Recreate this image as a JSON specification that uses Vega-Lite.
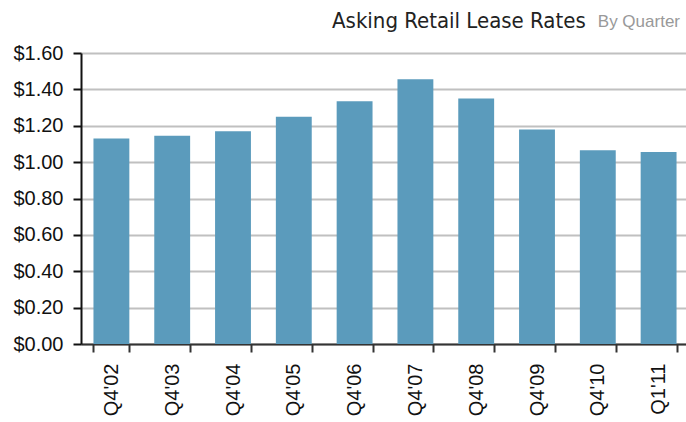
{
  "$schema": "https://vega.github.io/schema/vega-lite/v6.json",
  "autosize": {"type": "none"},
  "padding": {"left": 81, "top": 53, "right": 0, "bottom": 78},
  "width": 608,
  "height": 291,
  "background": "white",
  "title": {
    "text": "Asking Retail Lease Rates\u00a0\u00a0\u00a0\u00a0\u00a0\u00a0\u00a0\u00a0\u00a0\u00a0\u00a0\u00a0\u00a0\u00a0\u00a0\u200b",
    "subtitle": "By Quarter",
    "anchor": "end",
    "dx": -9,
    "font": "'Liberation Sans Narrow', 'DejaVu Sans Condensed', Roboto, sans-serif",
    "fontSize": 22,
    "fontWeight": "normal",
    "color": "#222222",
    "subtitleFont": "Liberation Sans",
    "subtitleFontSize": 17,
    "subtitleColor": "#999999",
    "subtitlePadding": -19,
    "offset": 10
  },
  "data": {
    "values": [
      {"q": "Q4'02", "v": 1.13},
      {"q": "Q4'03", "v": 1.145},
      {"q": "Q4'04", "v": 1.17},
      {"q": "Q4'05", "v": 1.25},
      {"q": "Q4'06", "v": 1.335},
      {"q": "Q4'07", "v": 1.455},
      {"q": "Q4'08", "v": 1.35},
      {"q": "Q4'09", "v": 1.18},
      {"q": "Q4'10", "v": 1.065},
      {"q": "Q1'11", "v": 1.055}
    ]
  },
  "mark": {"type": "bar", "color": "#5b9bbc"},
  "encoding": {
    "x": {
      "field": "q",
      "type": "nominal",
      "sort": null,
      "scale": {"paddingInner": 0.41, "paddingOuter": 0.205},
      "axis": {
        "title": null,
        "labelAngle": -90,
        "labelAlign": "right",
        "labelBaseline": "middle",
        "labelFont": "Liberation Sans",
        "labelFontSize": 20,
        "labelColor": "#111111",
        "labelPadding": 11,
        "tickBand": "extent",
        "tickSize": 8,
        "tickWidth": 2,
        "tickColor": "#333333",
        "domainColor": "#333333",
        "domainWidth": 2,
        "grid": false
      }
    },
    "y": {
      "field": "v",
      "type": "quantitative",
      "scale": {"domain": [0, 1.6], "nice": false},
      "axis": {
        "title": null,
        "values": [0, 0.2, 0.4, 0.6, 0.8, 1.0, 1.2, 1.4, 1.6],
        "format": "$.2f",
        "labelFont": "Liberation Sans",
        "labelFontSize": 20,
        "labelColor": "#111111",
        "labelPadding": 10,
        "tickSize": 8,
        "tickWidth": 2,
        "tickColor": "#111111",
        "domainColor": "#111111",
        "domainWidth": 2,
        "grid": true,
        "gridColor": "#c0c0c0",
        "gridWidth": 2
      }
    }
  },
  "config": {"view": {"stroke": null}}
}
